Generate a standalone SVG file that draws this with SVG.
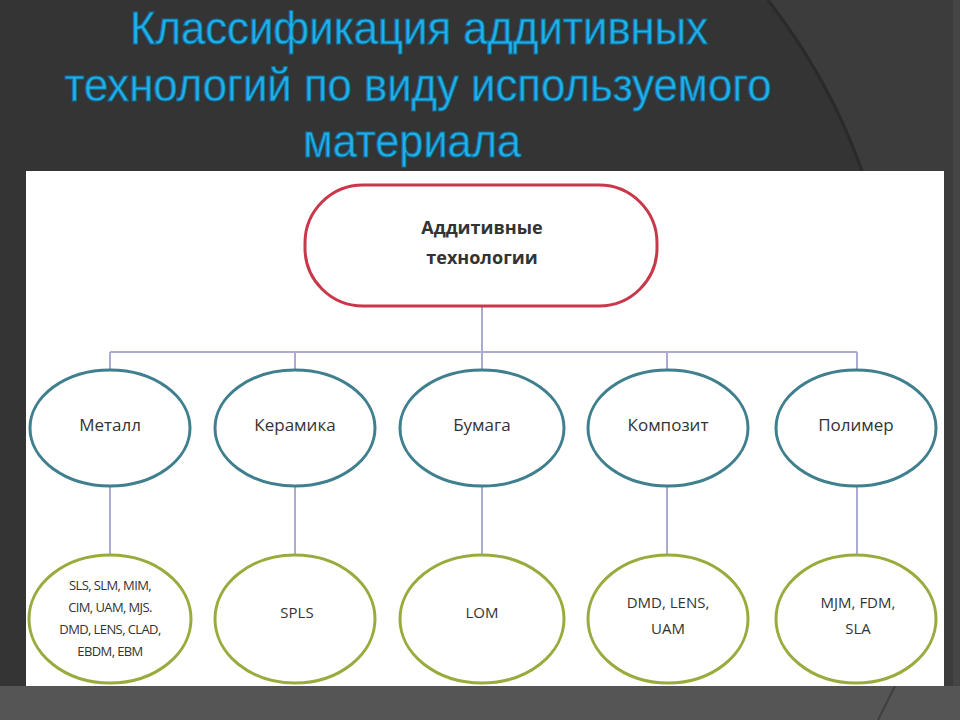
<svg xmlns="http://www.w3.org/2000/svg" width="960" height="720" viewBox="0 0 960 720">
<defs>
<style>
.title{font-family:"Liberation Sans",Arial,sans-serif;font-size:47px;fill:#22b0e8;stroke:#0b6f9c;stroke-width:1;text-anchor:middle}
.lbl{font-family:"Open Sans","Liberation Sans",sans-serif;fill:#333;text-anchor:middle}
.root{fill:#fff;stroke:#c8374a;stroke-width:3}
.mid{fill:#fff;stroke:#3f7f8e;stroke-width:3}
.leaf{fill:#fff;stroke:#98ac3e;stroke-width:3}
.conn{stroke:#a9acd0;stroke-width:2;fill:none}
</style>
</defs>
<rect width="960" height="720" fill="#343434"/>
<path d="M768,0 Q830,80 862,171 L944,171 L944,720 L960,720 L960,0 Z" fill="#3c3c3c"/>
<path d="M768,0 Q830,80 862,171" stroke="#2a2a2a" stroke-width="3" fill="none"/>
<rect x="953" y="0" width="7" height="720" fill="#454545"/>
<rect x="0" y="686" width="960" height="34" fill="#555"/>
<path d="M878,720 L895,686" stroke="#3e3e3e" stroke-width="2"/>
<g id="title">
<text class="title" x="419" y="44" textLength="578" lengthAdjust="spacingAndGlyphs">Классификация аддитивных</text>
<text class="title" x="418" y="101" textLength="707" lengthAdjust="spacingAndGlyphs">технологий по виду используемого</text>
<text class="title" x="412" y="157" textLength="218" lengthAdjust="spacingAndGlyphs">материала</text>
</g>
<rect x="26" y="171" width="918" height="515" fill="#fff"/>
<g id="connectors">
<path class="conn" d="M482,306 V352 M110,352 H857 M110,352 V370 M295,352 V370 M482,352 V370 M667,352 V370 M857,352 V370"/>
<path class="conn" d="M110,485 V556 M295,485 V556 M482,485 V556 M667,485 V556 M857,485 V556"/>
</g>
<g id="root">
<rect class="root" x="305" y="185" width="352" height="121" rx="58" ry="58"/>
<text class="lbl" x="482" y="234" font-size="18" font-weight="bold">Аддитивные</text>
<text class="lbl" x="482" y="264" font-size="18" font-weight="bold">технологии</text>
</g>
<g id="metal"><ellipse class="mid" cx="110" cy="428" rx="80" ry="58"/><text class="lbl" x="110" y="431" font-size="17">Металл</text></g>
<g id="ceramic"><ellipse class="mid" cx="295" cy="428" rx="80" ry="58"/><text class="lbl" x="295" y="431" font-size="17">Керамика</text></g>
<g id="paper"><ellipse class="mid" cx="482" cy="428" rx="82" ry="58"/><text class="lbl" x="482" y="431" font-size="17">Бумага</text></g>
<g id="composite"><ellipse class="mid" cx="668" cy="428" rx="80" ry="58"/><text class="lbl" x="668" y="431" font-size="17">Композит</text></g>
<g id="polymer"><ellipse class="mid" cx="856" cy="428" rx="80" ry="58"/><text class="lbl" x="856" y="431" font-size="17">Полимер</text></g>
<g id="metal-tech"><ellipse class="leaf" cx="110" cy="619" rx="81" ry="64"/>
<text class="lbl" x="110" y="590" font-size="13" letter-spacing="-0.6">SLS, SLM, MIM,</text>
<text class="lbl" x="110" y="612" font-size="13" letter-spacing="-0.6">CIM, UAM, MJS.</text>
<text class="lbl" x="110" y="634" font-size="13" letter-spacing="-0.6">DMD, LENS, CLAD,</text>
<text class="lbl" x="110" y="656" font-size="13" letter-spacing="-0.6">EBDM, EBM</text></g>
<g id="ceramic-tech"><ellipse class="leaf" cx="295" cy="619" rx="80" ry="64"/><text class="lbl" x="297" y="618" font-size="15">SPLS</text></g>
<g id="paper-tech"><ellipse class="leaf" cx="482" cy="619" rx="82" ry="64"/><text class="lbl" x="482" y="618" font-size="15">LOM</text></g>
<g id="composite-tech"><ellipse class="leaf" cx="668" cy="619" rx="80" ry="64"/><text class="lbl" x="668" y="608" font-size="15">DMD, LENS,</text><text class="lbl" x="668" y="634" font-size="15">UAM</text></g>
<g id="polymer-tech"><ellipse class="leaf" cx="856" cy="619" rx="80" ry="64"/><text class="lbl" x="858" y="608" font-size="15">MJM, FDM,</text><text class="lbl" x="858" y="634" font-size="15">SLA</text></g>
</svg>
